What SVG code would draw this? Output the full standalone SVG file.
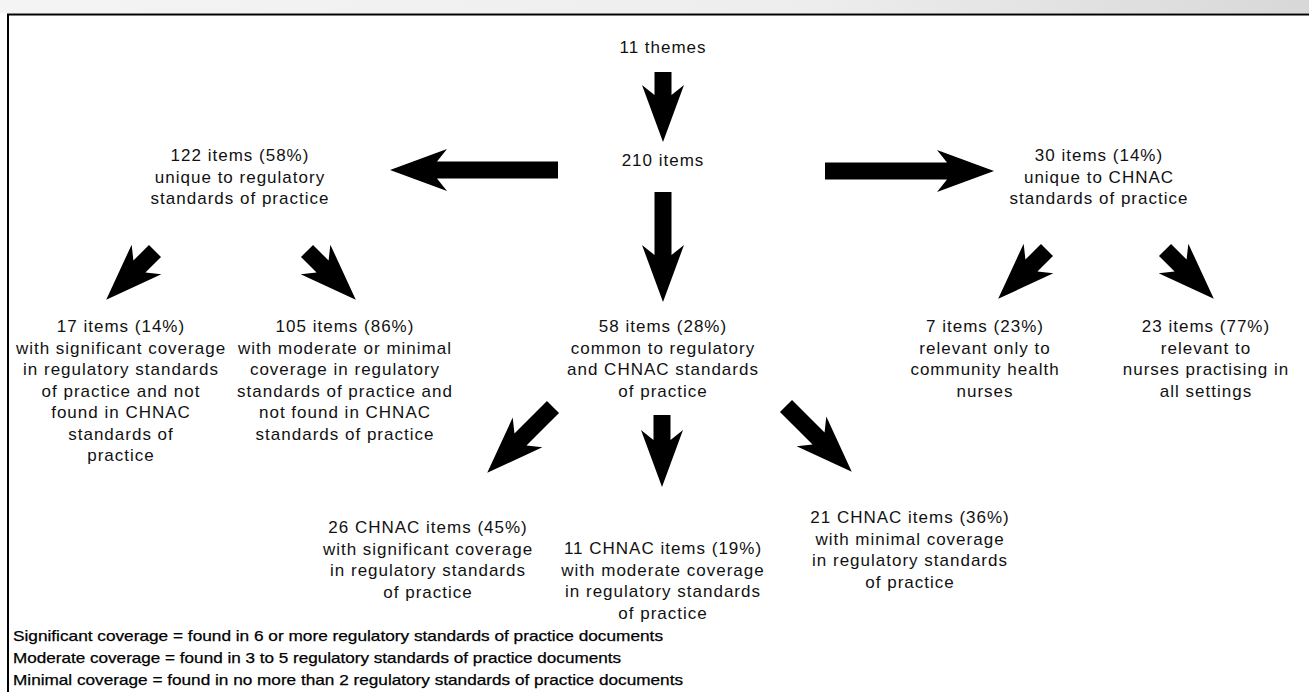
<svg xmlns="http://www.w3.org/2000/svg" width="1309" height="692" viewBox="0 0 1309 692">
<defs>
<style>
.t{font-family:"Liberation Sans",Arial,sans-serif;font-size:17px;letter-spacing:1px;fill:#111;text-anchor:middle}
.lg{font-family:"Liberation Sans Narrow","Liberation Sans",Arial,sans-serif;font-size:15px;fill:#000;stroke:#000;stroke-width:0.25}
.ar{fill:#000}
.fr{stroke:#000;stroke-width:2;fill:none}
</style>
<linearGradient id="scan" x1="0" y1="0" x2="1" y2="0">
<stop offset="0" stop-color="#f4f4f4"/>
<stop offset="0.6" stop-color="#eeeeee"/>
<stop offset="1" stop-color="#d8d8d8"/>
</linearGradient>
</defs>
<rect x="0" y="0" width="1309" height="692" fill="#fff"/>
<rect x="0" y="0" width="1309" height="13" fill="url(#scan)"/>
<g id="frame">
<path class="fr" d="M8,692 V14.5 H1309"/>
</g>
<g id="connectors">
<polygon class="ar" points="654.5,72 654.5,95 642,85 663,142 684,85 671.5,95 671.5,72"/>
<polygon class="ar" points="654.5,192 654.5,255 642,245 663,302 684,245 671.5,255 671.5,192"/>
<polygon class="ar" points="558,161.5 437,161.5 447,149 390,170 447,191 437,178.5 558,178.5"/>
<polygon class="ar" points="825,179.5 947,179.5 937,192 994,171 937,150 947,162.5 825,162.5"/>
<polygon class="ar" points="161.01,257.01 145.44,272.58 161.35,274.35 106.2,299.8 131.65,244.65 133.42,260.56 148.99,244.99"/>
<polygon class="ar" points="300.99,257.01 316.56,272.58 300.65,274.35 355.8,299.8 330.35,244.65 328.58,260.56 313.01,244.99"/>
<polygon class="ar" points="1041,244 1025.42,259.56 1023.65,243.65 998.2,298.8 1053.35,273.35 1037.44,271.58 1053,256"/>
<polygon class="ar" points="1158.99,256.01 1174.56,271.58 1158.65,273.35 1213.8,298.8 1188.35,243.65 1186.58,259.56 1171.01,243.99"/>
<polygon class="ar" points="546.99,400.99 514.46,433.52 512.69,417.61 487.24,472.76 542.39,447.31 526.48,445.54 559.01,413.01"/>
<polygon class="ar" points="653.5,415 653.5,440 641,430 662,487 683,430 670.5,440 670.5,415"/>
<polygon class="ar" points="779.99,412.01 812.52,444.54 796.61,446.31 851.76,471.76 826.31,416.61 824.54,432.52 792.01,399.99"/>
</g>
<g id="themes"><text class="t" x="663" y="53">11 themes</text></g>
<g id="items210"><text class="t" x="663" y="166">210 items</text></g>
<g id="unique-regulatory">
<text class="t" x="240" y="161">122 items (58%)</text>
<text class="t" x="240" y="182.5">unique to regulatory</text>
<text class="t" x="240" y="204">standards of practice</text>
</g>
<g id="unique-chnac">
<text class="t" x="1099" y="161">30 items (14%)</text>
<text class="t" x="1099" y="182.5">unique to CHNAC</text>
<text class="t" x="1099" y="204">standards of practice</text>
</g>
<g id="items17">
<text class="t" x="121" y="332">17 items (14%)</text>
<text class="t" x="121" y="353.5">with significant coverage</text>
<text class="t" x="121" y="375">in regulatory standards</text>
<text class="t" x="121" y="396.5">of practice and not</text>
<text class="t" x="121" y="418">found in CHNAC</text>
<text class="t" x="121" y="439.5">standards of</text>
<text class="t" x="121" y="461">practice</text>
</g>
<g id="items105">
<text class="t" x="345" y="332">105 items (86%)</text>
<text class="t" x="345" y="353.5">with moderate or minimal</text>
<text class="t" x="345" y="375">coverage in regulatory</text>
<text class="t" x="345" y="396.5">standards of practice and</text>
<text class="t" x="345" y="418">not found in CHNAC</text>
<text class="t" x="345" y="439.5">standards of practice</text>
</g>
<g id="items58">
<text class="t" x="663" y="332">58 items (28%)</text>
<text class="t" x="663" y="353.5">common to regulatory</text>
<text class="t" x="663" y="375">and CHNAC standards</text>
<text class="t" x="663" y="396.5">of practice</text>
</g>
<g id="items7">
<text class="t" x="985" y="332">7 items (23%)</text>
<text class="t" x="985" y="353.5">relevant only to</text>
<text class="t" x="985" y="375">community health</text>
<text class="t" x="985" y="396.5">nurses</text>
</g>
<g id="items23">
<text class="t" x="1206" y="332">23 items (77%)</text>
<text class="t" x="1206" y="353.5">relevant to</text>
<text class="t" x="1206" y="375">nurses practising in</text>
<text class="t" x="1206" y="396.5">all settings</text>
</g>
<g id="chnac26">
<text class="t" x="428" y="533">26 CHNAC items (45%)</text>
<text class="t" x="428" y="554.5">with significant coverage</text>
<text class="t" x="428" y="576">in regulatory standards</text>
<text class="t" x="428" y="597.5">of practice</text>
</g>
<g id="chnac11">
<text class="t" x="663" y="554">11 CHNAC items (19%)</text>
<text class="t" x="663" y="575.5">with moderate coverage</text>
<text class="t" x="663" y="597">in regulatory standards</text>
<text class="t" x="663" y="618.5">of practice</text>
</g>
<g id="chnac21">
<text class="t" x="910" y="523">21 CHNAC items (36%)</text>
<text class="t" x="910" y="544.5">with minimal coverage</text>
<text class="t" x="910" y="566">in regulatory standards</text>
<text class="t" x="910" y="587.5">of practice</text>
</g>
<g id="legend">
<text class="lg" x="13" y="641" textLength="650" lengthAdjust="spacingAndGlyphs">Significant coverage = found in 6 or more regulatory standards of practice documents</text>
<text class="lg" x="13" y="663" textLength="608" lengthAdjust="spacingAndGlyphs">Moderate coverage = found in 3 to 5 regulatory standards of practice documents</text>
<text class="lg" x="13" y="685" textLength="670" lengthAdjust="spacingAndGlyphs">Minimal coverage = found in no more than 2 regulatory standards of practice documents</text>
</g>
</svg>
